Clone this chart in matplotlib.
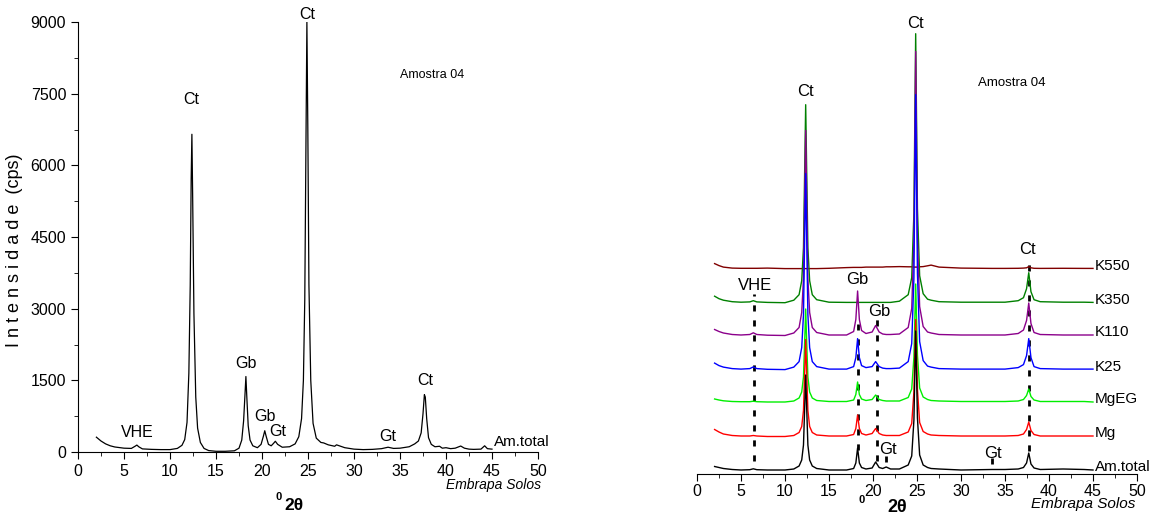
import matplotlib
matplotlib.use("Agg")
import matplotlib.pyplot as plt
from matplotlib.ticker import MultipleLocator

plt.rcParams['font.family'] = ['Liberation Sans', 'DejaVu Sans']

# left panel: Am.total diffractogram (2theta, counts)
left_x = [2.0, 2.5, 3.0, 3.5, 4.0, 5.0, 5.8, 6.2, 6.4, 6.6, 7.0, 8.0, 9.0, 10.0, 10.8, 11.3,
          11.6, 11.85, 12.05, 12.2, 12.3, 12.38, 12.46, 12.6, 12.8, 13.0, 13.3, 13.7, 14.2,
          15.0, 16.0, 17.0, 17.5, 17.8, 18.0, 18.15, 18.25, 18.35, 18.5, 18.7, 19.0, 19.5,
          19.9, 20.15, 20.3, 20.45, 20.7, 21.0, 21.25, 21.45, 21.7, 22.2, 23.0, 23.6, 24.0,
          24.3, 24.5, 24.65, 24.78, 24.88, 24.98, 25.1, 25.3, 25.55, 25.9, 26.4, 26.7, 27.2,
          27.9, 28.1, 29.0, 30.0, 31.0, 32.0, 33.0, 33.7, 34.3, 35.0, 36.0, 36.6, 37.0, 37.3,
          37.5, 37.65, 37.75, 37.9, 38.1, 38.4, 38.8, 39.3, 39.6, 40.0, 40.5, 41.0, 41.6, 42.0,
          42.5, 43.0, 43.8, 44.2, 44.5, 45.0]
left_y = [310, 230, 170, 130, 105, 80, 75, 120, 145, 110, 65, 55, 50, 50, 75, 140,
          260, 620, 1650, 3500, 5700, 6650, 5400, 2900, 1150, 500, 200, 75, 30,
          15, 15, 25, 80, 250, 650, 1200, 1580, 1150, 550, 250, 130, 90,
          160, 330, 445, 330, 160, 130, 180, 225, 160, 100, 110, 170, 320,
          700, 1500, 3200, 6500, 9000, 6800, 3500, 1500, 600, 290, 200, 190, 150,
          120, 150, 90, 60, 50, 55, 70, 100, 75, 80, 110, 170, 230, 400,
          800, 1200, 1150, 700, 300, 160, 110, 120, 80, 90, 70, 80, 125, 80,
          60, 55, 60, 130, 70, 60]

left_labels = ["VHE", "Ct", "Gb", "Gb", "Gt", "Ct", "Gt", "Ct"]
left_label_x = [6.4, 12.35, 18.2, 20.3, 21.7, 24.9, 33.7, 37.7]
left_label_y = [400, 7370, 1860, 750, 420, 9150, 315, 1500]

# right panel: treatments, relative intensity (plot units)
r_x = [2.0, 2.5, 3.0, 4.0, 5.0, 6.0, 6.4, 6.8, 8.0, 10.0, 11.0, 11.6, 11.9, 12.1, 12.25,
       12.35, 12.45, 12.6, 12.8, 13.1, 13.6, 15.0, 17.0, 17.8, 18.05, 18.25, 18.45, 18.7,
       19.2, 19.9, 20.3, 20.7, 21.1, 21.5, 22.0, 23.0, 24.0, 24.4, 24.65, 24.85, 25.05, 25.3,
       25.7, 26.2, 26.6, 27.5, 30.0, 33.5, 35.0, 36.5, 37.1, 37.45, 37.7, 37.95, 38.3, 39.0,
       41.6, 44.0, 45.0]
am_total = [3.5, 2.5, 1.5, 0.5, 0, 0.3, 1.2, 0.3, 0, 0, 1, 4, 10, 25, 66,
            95, 66, 25, 10, 4, 1.5, 0, 0, 1.5, 7, 22, 7, 2.5,
            1, 2, 8, 2.5, 1.5, 3, 1, 1, 5, 14, 50, 139, 52, 15,
            5, 2.5, 1.5, 1, 0, 0.5, 0.5, 1, 2.5, 7, 17, 6, 2, 0.5,
            1, 0.5, 0]
mg = [7, 4.5, 2.5, 1, 0.5, 0.5, 1, 0.5, 0, 0, 1, 4, 10, 26, 68,
      97, 68, 26, 10, 4, 1.5, 0.5, 0.5, 2, 8, 21.5, 8, 3,
      1.5, 3, 8, 3, 1.5, 1, 1, 1, 4.5, 13, 45, 117, 47, 14,
      5, 2.5, 1.5, 1, 0.5, 0.5, 0.5, 1, 2.5, 7, 14.5, 6, 2, 0.5,
      0.5, 0.5, 0.5]
mgeg = [3, 2, 1.2, 0.5, 0.3, 0.3, 0.8, 0.3, 0, 0, 1, 4, 10, 25, 64,
        93, 64, 25, 10, 4, 1.5, 0.5, 0.5, 2, 7.5, 20, 7.5, 3,
        1.5, 2.5, 7, 2.5, 1.5, 1, 1, 1, 4.5, 13, 45, 118, 47, 14,
        5, 2.5, 1.5, 1, 0.5, 0.5, 0.5, 1, 2.5, 6.5, 13, 5.5, 2, 0.5,
        0.5, 0.5, 0]
k25 = [6.5, 4, 2.5, 1, 0.5, 1, 2.7, 1, 0.3, 0, 2.5, 8, 22, 55, 140,
       196, 140, 55, 22, 8, 3, 0.5, 0.5, 3, 12, 31, 12, 4,
       2, 3, 8, 3, 1.5, 1, 1, 1.5, 8, 26, 92, 275, 96, 28,
       9, 3.5, 2.5, 1, 0.5, 0.5, 0.5, 2, 5, 14, 31, 12, 3, 1,
       0.5, 0.5, 0.5]
k110 = [6, 4, 2.5, 1, 0.5, 1, 2.7, 1, 0.3, 0, 2.5, 8, 23, 57, 146,
        205, 146, 57, 23, 8, 3, 0.5, 0.5, 4, 16, 44.5, 16, 5,
        2, 3.5, 10, 3.5, 1.5, 1, 1, 1.5, 8, 27, 95, 284, 98, 29,
        9, 3.5, 2.5, 1, 0.5, 0.5, 0.5, 2, 5.5, 15, 32.5, 12, 3, 1,
        0.5, 0.5, 0.5]
k350 = [6.5, 4, 2.5, 1, 0.5, 0.8, 2, 0.8, 0.3, 0, 2.5, 8, 22, 55, 140,
        198, 140, 55, 22, 8, 3, 0.5, 0.3, 0.3, 0.3, 0.3, 0.3, 0.3,
        0.3, 0.3, 0.3, 0.3, 0.3, 0.3, 0.3, 1.5, 8, 25, 90, 269, 94, 27,
        9, 3.5, 2.5, 1, 0.5, 0.5, 0.5, 2, 5, 14, 30, 11, 3, 1,
        0.5, 0.5, 0.3]
k550 = [5, 3, 1.5, 0.5, 0.3, 0.3, 0.3, 0.3, 0.5, 0, 0, 0, 0, 0, 0,
        0, 0, 0, 0, 0, 0, 0.3, 1, 1.2, 1.2, 1.2, 1.2, 1.2,
        1.5, 1.5, 1.5, 1.5, 1.5, 1.8, 1.8, 2, 1.8, 1.8, 1.5, 1.5, 1.5, 1.8,
        2, 2.8, 3.5, 1.5, 0.5, 0.2, 0.2, 0.3, 0.5, 0.8, 2, 0.8, 0.3, 0.2,
        0.3, 0.2, 0.2]

series_names = ["Am.total", "Mg", "MgEG", "K25", "K110", "K350", "K550"]
series_data = [am_total, mg, mgeg, k25, k110, k350, k550]
series_colors = ["black", "#ff0000", "#00ee00", "#0000ff", "#8b008b", "#008000", "#800000"]
offsets = [4, 37.5, 72, 104.4, 138.5, 171.3, 205.4]

right_labels = ["VHE", "Ct", "Gb", "Gb", "Gt", "Ct", "Gt", "Ct"]
right_label_x = [6.6, 12.35, 18.2, 20.7, 21.7, 24.85, 33.6, 37.6]
right_label_y = [188, 383, 194, 162, 24, 450, 20, 225]

guide_x = [6.5, 18.3, 20.4, 37.7, 21.5, 33.5]
guide_y0 = [13, 24, 13, 23, 11.6, 10]
guide_y1 = [180, 150, 155, 216, 18, 16]

fig = plt.figure(figsize=(11.53, 5.15), dpi=100)

# ---- left panel ----
ax1 = fig.add_axes([78 / 1153, 1 - 452 / 515, 460 / 1153, 430 / 515])
ax1.plot(left_x, left_y, color="black", lw=0.9)
ax1.set_xlim(0, 50)
ax1.set_ylim(0, 9000)
ax1.spines['top'].set_visible(False)
ax1.spines['right'].set_visible(False)
ax1.xaxis.set_major_locator(MultipleLocator(5))
ax1.xaxis.set_minor_locator(MultipleLocator(2.5))
ax1.yaxis.set_major_locator(MultipleLocator(1500))
ax1.yaxis.set_minor_locator(MultipleLocator(750))
ax1.tick_params(which='major', length=5, labelsize=11.5)
ax1.tick_params(which='minor', length=3)
for lab, x, y in zip(left_labels, left_label_x, left_label_y):
    ax1.text(x, y, lab, ha='center', va='center', fontsize=11.5)
ax1.text(35, 7890, "Amostra 04", fontsize=9, va='center')
ax1.text(45.2, 210, "Am.total", fontsize=11, va='center')

fig.text(15 / 1153, 1 - 250 / 515, "I n t e n s i d a d e  (cps)", rotation=90,
         ha='center', va='center', fontsize=13)
fig.text(541 / 1153, 1 - 485 / 515, "Embrapa Solos", style='italic', ha='right',
         va='center', fontsize=10)
fig.text(279 / 1153, 1 - 497 / 515, "0", fontsize=8, fontweight='bold', ha='center', va='center')
fig.text(294 / 1153, 1 - 505 / 515, "2θ", fontsize=12.5, fontweight='bold', ha='center', va='center')

# ---- right panel ----
ax2 = fig.add_axes([697 / 1153, 1 - 474 / 515, 440 / 1153, 464 / 515])
for gx, g0, g1 in zip(guide_x, guide_y0, guide_y1):
    ax2.plot([gx, gx], [g0, g1], color="black", lw=2, dashes=(2.2, 3.2), zorder=1)
for name, data, c, off in list(zip(series_names, series_data, series_colors, offsets))[::-1]:
    ax2.plot(r_x, [v + off for v in data], color=c, lw=1.0, zorder=2)
    ax2.text(45.2, off + 3, name, fontsize=11, va='center', zorder=3)
for lab, x, y in zip(right_labels, right_label_x, right_label_y):
    ax2.text(x, y, lab, ha='center', va='center', fontsize=12, zorder=3)
ax2.text(31.9, 391, "Amostra 04", fontsize=9.5, va='center')
ax2.set_xlim(0, 50)
ax2.set_ylim(0, 464)
for s in ['top', 'right', 'left']:
    ax2.spines[s].set_visible(False)
ax2.set_yticks([])
ax2.xaxis.set_major_locator(MultipleLocator(5))
ax2.xaxis.set_minor_locator(MultipleLocator(2.5))
ax2.tick_params(which='major', length=5, labelsize=11.5, pad=2)
ax2.tick_params(which='minor', length=3)

fig.text(1135 / 1153, 1 - 504 / 515, "Embrapa Solos", style='italic', ha='right',
         va='center', fontsize=11)
fig.text(862 / 1153, 1 - 500 / 515, "0", fontsize=8, fontweight='bold', ha='center', va='center')
fig.text(897 / 1153, 1 - 508 / 515, "2θ", fontsize=13, fontweight='bold', ha='center', va='center')

fig.savefig("out.png", dpi=100)
